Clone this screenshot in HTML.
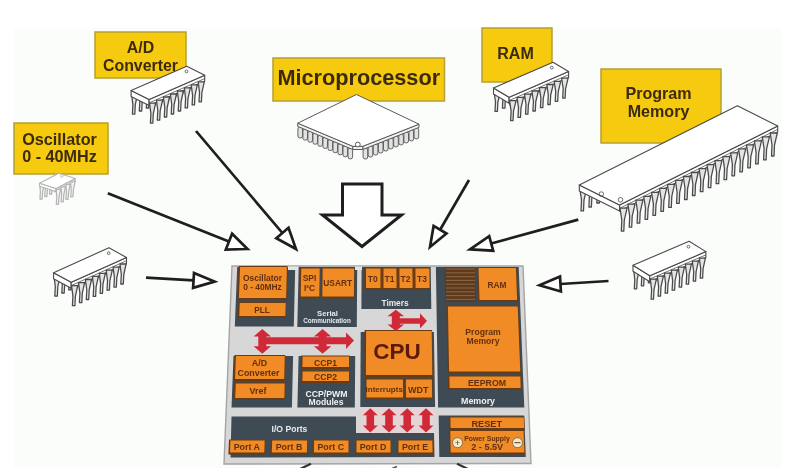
<!DOCTYPE html><html><head><meta charset="utf-8"><style>html,body{margin:0;padding:0;background:#fff;width:796px;height:468px;overflow:hidden}svg{display:block;filter:blur(0.3px);font-family:"Liberation Sans",sans-serif}</style></head><body>
<svg width="796" height="468" viewBox="0 0 796 468">
<rect width="796" height="468" fill="#fff"/>
<rect x="14" y="28" width="768" height="440" fill="#FBFDFB"/>
<rect x="95" y="32" width="91" height="46" fill="#F6CA0E" stroke="#B5A032" stroke-width="1.5"/>
<text x="140.5" y="47.3" font-size="15.9" fill="#3B2A0E" font-weight="bold" text-anchor="middle" dominant-baseline="central" letter-spacing="0" >A/D</text>
<text x="140.5" y="65.6" font-size="15.9" fill="#3B2A0E" font-weight="bold" text-anchor="middle" dominant-baseline="central" letter-spacing="0" >Converter</text>
<rect x="14" y="123" width="94" height="51" fill="#F6CA0E" stroke="#B5A032" stroke-width="1.5"/>
<text x="59.5" y="138.5" font-size="16.2" fill="#3B2A0E" font-weight="bold" text-anchor="middle" dominant-baseline="central" letter-spacing="0" >Oscillator</text>
<text x="59.5" y="156" font-size="16.2" fill="#3B2A0E" font-weight="bold" text-anchor="middle" dominant-baseline="central" letter-spacing="0" >0 - 40MHz</text>
<rect x="273" y="58" width="171.5" height="43" fill="#F6CA0E" stroke="#B5A032" stroke-width="1.5"/>
<text x="358.75" y="77.5" font-size="21.7" fill="#3B2A0E" font-weight="bold" text-anchor="middle" dominant-baseline="central" letter-spacing="0" >Microprocessor</text>
<rect x="482" y="28" width="70" height="54" fill="#F6CA0E" stroke="#B5A032" stroke-width="1.5"/>
<text x="515.5" y="53" font-size="16" fill="#3B2A0E" font-weight="bold" text-anchor="middle" dominant-baseline="central" letter-spacing="0" >RAM</text>
<rect x="601" y="69" width="120" height="74" fill="#F6CA0E" stroke="#B5A032" stroke-width="1.5"/>
<text x="658.5" y="92.8" font-size="16.1" fill="#3B2A0E" font-weight="bold" text-anchor="middle" dominant-baseline="central" letter-spacing="0" >Program</text>
<text x="658.5" y="111.3" font-size="16.1" fill="#3B2A0E" font-weight="bold" text-anchor="middle" dominant-baseline="central" letter-spacing="0" >Memory</text>
<polygon points="39.8,184.0 44.2,184.0 42.6,192.0 42.1,199.0 39.9,199.0 40.4,192.0" fill="#f4f4f4" stroke="#b5b5b5" stroke-width="1.265" stroke-linejoin="round"/>
<polygon points="44.6,181.5 49.0,181.5 47.4,189.5 46.9,196.5 44.7,196.5 45.2,189.5" fill="#f4f4f4" stroke="#b5b5b5" stroke-width="1.265" stroke-linejoin="round"/>
<polygon points="49.4,179.0 53.8,179.0 52.2,187.0 51.7,194.0 49.5,194.0 50.0,187.0" fill="#f4f4f4" stroke="#b5b5b5" stroke-width="1.265" stroke-linejoin="round"/>
<polygon points="54.2,176.5 58.6,176.5 57.0,184.5 56.5,191.5 54.3,191.5 54.8,184.5" fill="#f4f4f4" stroke="#b5b5b5" stroke-width="1.265" stroke-linejoin="round"/>
<polygon points="39.6,183.3 56.0,188.6 56.0,191.6 39.6,186.3" fill="#fff" stroke="#b5b5b5" stroke-width="1.1" stroke-linejoin="round"/>
<polygon points="56.0,188.6 75.2,178.5 75.2,181.5 56.0,191.6" fill="#fff" stroke="#b5b5b5" stroke-width="1.1" stroke-linejoin="round"/>
<line x1="56.0" y1="190.3" x2="75.2" y2="180.2" stroke="#b5b5b5" stroke-width="0.77"/>
<polygon points="39.6,183.3 58.8,173.2 75.2,178.5 56.0,188.6" fill="#fff" stroke="#b5b5b5" stroke-width="1.1" stroke-linejoin="round"/>
<circle cx="61.8" cy="175.8" r="1.4" fill="none" stroke="#b5b5b5" stroke-width="0.8"/>
<polygon points="56.2,189.3 60.6,189.3 59.0,197.3 58.5,204.3 56.3,204.3 56.8,197.3" fill="#f4f4f4" stroke="#b5b5b5" stroke-width="1.265" stroke-linejoin="round"/>
<polygon points="61.0,186.8 65.4,186.8 63.8,194.8 63.3,201.8 61.1,201.8 61.6,194.8" fill="#f4f4f4" stroke="#b5b5b5" stroke-width="1.265" stroke-linejoin="round"/>
<polygon points="65.8,184.3 70.2,184.3 68.6,192.3 68.1,199.3 65.9,199.3 66.4,192.3" fill="#f4f4f4" stroke="#b5b5b5" stroke-width="1.265" stroke-linejoin="round"/>
<polygon points="70.6,181.8 75.0,181.8 73.4,189.8 72.9,196.8 70.7,196.8 71.2,189.8" fill="#f4f4f4" stroke="#b5b5b5" stroke-width="1.265" stroke-linejoin="round"/>
<polygon points="131.5,94.1 137.6,94.1 135.3,104.6 134.8,114.1 132.4,114.1 132.9,104.6" fill="#e4e4e4" stroke="#4a4a4a" stroke-width="1.265" stroke-linejoin="round"/>
<polygon points="138.5,91.0 144.6,91.0 142.2,101.5 141.7,111.0 139.3,111.0 139.8,101.5" fill="#e4e4e4" stroke="#4a4a4a" stroke-width="1.265" stroke-linejoin="round"/>
<polygon points="145.4,88.0 151.5,88.0 149.2,98.5 148.7,108.0 146.3,108.0 146.8,98.5" fill="#e4e4e4" stroke="#4a4a4a" stroke-width="1.265" stroke-linejoin="round"/>
<polygon points="152.4,84.9 158.5,84.9 156.1,95.4 155.6,104.9 153.2,104.9 153.7,95.4" fill="#e4e4e4" stroke="#4a4a4a" stroke-width="1.265" stroke-linejoin="round"/>
<polygon points="159.3,81.9 165.4,81.9 163.1,92.4 162.6,101.9 160.2,101.9 160.7,92.4" fill="#e4e4e4" stroke="#4a4a4a" stroke-width="1.265" stroke-linejoin="round"/>
<polygon points="166.3,78.9 172.4,78.9 170.0,89.4 169.5,98.9 167.1,98.9 167.6,89.4" fill="#e4e4e4" stroke="#4a4a4a" stroke-width="1.265" stroke-linejoin="round"/>
<polygon points="173.2,75.8 179.3,75.8 177.0,86.3 176.5,95.8 174.1,95.8 174.6,86.3" fill="#e4e4e4" stroke="#4a4a4a" stroke-width="1.265" stroke-linejoin="round"/>
<polygon points="180.2,72.8 186.3,72.8 183.9,83.3 183.4,92.8 181.0,92.8 181.5,83.3" fill="#e4e4e4" stroke="#4a4a4a" stroke-width="1.265" stroke-linejoin="round"/>
<polygon points="131.1,90.6 149.1,99.6 149.1,105.6 131.1,96.6" fill="#fff" stroke="#4a4a4a" stroke-width="1.1" stroke-linejoin="round"/>
<polygon points="149.1,99.6 204.7,75.3 204.7,81.3 149.1,105.6" fill="#fff" stroke="#4a4a4a" stroke-width="1.1" stroke-linejoin="round"/>
<line x1="149.1" y1="102.9" x2="204.7" y2="78.6" stroke="#4a4a4a" stroke-width="0.77"/>
<polygon points="131.1,90.6 186.7,66.2 204.7,75.3 149.1,99.6" fill="#fff" stroke="#4a4a4a" stroke-width="1.1" stroke-linejoin="round"/>
<circle cx="186.5" cy="71.4" r="1.4" fill="none" stroke="#4a4a4a" stroke-width="0.8"/>
<polygon points="149.5,103.1 155.6,103.1 153.3,113.6 152.8,123.1 150.4,123.1 150.9,113.6" fill="#e4e4e4" stroke="#4a4a4a" stroke-width="1.265" stroke-linejoin="round"/>
<polygon points="156.5,100.1 162.6,100.1 160.2,110.6 159.7,120.1 157.3,120.1 157.8,110.6" fill="#e4e4e4" stroke="#4a4a4a" stroke-width="1.265" stroke-linejoin="round"/>
<polygon points="163.4,97.0 169.5,97.0 167.2,107.5 166.7,117.0 164.3,117.0 164.8,107.5" fill="#e4e4e4" stroke="#4a4a4a" stroke-width="1.265" stroke-linejoin="round"/>
<polygon points="170.4,94.0 176.5,94.0 174.1,104.5 173.6,114.0 171.2,114.0 171.7,104.5" fill="#e4e4e4" stroke="#4a4a4a" stroke-width="1.265" stroke-linejoin="round"/>
<polygon points="177.3,91.0 183.4,91.0 181.1,101.5 180.6,111.0 178.2,111.0 178.7,101.5" fill="#e4e4e4" stroke="#4a4a4a" stroke-width="1.265" stroke-linejoin="round"/>
<polygon points="184.3,87.9 190.4,87.9 188.0,98.4 187.5,107.9 185.1,107.9 185.6,98.4" fill="#e4e4e4" stroke="#4a4a4a" stroke-width="1.265" stroke-linejoin="round"/>
<polygon points="191.2,84.9 197.3,84.9 195.0,95.4 194.5,104.9 192.1,104.9 192.6,95.4" fill="#e4e4e4" stroke="#4a4a4a" stroke-width="1.265" stroke-linejoin="round"/>
<polygon points="198.2,81.8 204.3,81.8 201.9,92.3 201.4,101.8 199.0,101.8 199.5,92.3" fill="#e4e4e4" stroke="#4a4a4a" stroke-width="1.265" stroke-linejoin="round"/>
<rect x="297.9" y="127.0" width="4.6" height="11" rx="2" fill="#e2e2e2" stroke="#555" stroke-width="0.9"/>
<rect x="302.9" y="129.1" width="4.6" height="11" rx="2" fill="#e2e2e2" stroke="#555" stroke-width="0.9"/>
<rect x="307.9" y="131.2" width="4.6" height="11" rx="2" fill="#e2e2e2" stroke="#555" stroke-width="0.9"/>
<rect x="312.9" y="133.2" width="4.6" height="11" rx="2" fill="#e2e2e2" stroke="#555" stroke-width="0.9"/>
<rect x="317.9" y="135.3" width="4.6" height="11" rx="2" fill="#e2e2e2" stroke="#555" stroke-width="0.9"/>
<rect x="322.9" y="137.4" width="4.6" height="11" rx="2" fill="#e2e2e2" stroke="#555" stroke-width="0.9"/>
<rect x="328.0" y="139.6" width="4.6" height="11" rx="2" fill="#e2e2e2" stroke="#555" stroke-width="0.9"/>
<rect x="333.0" y="141.7" width="4.6" height="11" rx="2" fill="#e2e2e2" stroke="#555" stroke-width="0.9"/>
<rect x="338.0" y="143.8" width="4.6" height="11" rx="2" fill="#e2e2e2" stroke="#555" stroke-width="0.9"/>
<rect x="343.0" y="145.8" width="4.6" height="11" rx="2" fill="#e2e2e2" stroke="#555" stroke-width="0.9"/>
<rect x="348.0" y="147.9" width="4.6" height="11" rx="2" fill="#e2e2e2" stroke="#555" stroke-width="0.9"/>
<rect x="363.1" y="148.0" width="4.6" height="11" rx="2" fill="#e2e2e2" stroke="#555" stroke-width="0.9"/>
<rect x="368.2" y="146.0" width="4.6" height="11" rx="2" fill="#e2e2e2" stroke="#555" stroke-width="0.9"/>
<rect x="373.3" y="144.0" width="4.6" height="11" rx="2" fill="#e2e2e2" stroke="#555" stroke-width="0.9"/>
<rect x="378.4" y="142.0" width="4.6" height="11" rx="2" fill="#e2e2e2" stroke="#555" stroke-width="0.9"/>
<rect x="383.5" y="140.0" width="4.6" height="11" rx="2" fill="#e2e2e2" stroke="#555" stroke-width="0.9"/>
<rect x="388.6" y="137.9" width="4.6" height="11" rx="2" fill="#e2e2e2" stroke="#555" stroke-width="0.9"/>
<rect x="393.7" y="135.9" width="4.6" height="11" rx="2" fill="#e2e2e2" stroke="#555" stroke-width="0.9"/>
<rect x="398.8" y="133.9" width="4.6" height="11" rx="2" fill="#e2e2e2" stroke="#555" stroke-width="0.9"/>
<rect x="403.9" y="131.9" width="4.6" height="11" rx="2" fill="#e2e2e2" stroke="#555" stroke-width="0.9"/>
<rect x="409.0" y="129.9" width="4.6" height="11" rx="2" fill="#e2e2e2" stroke="#555" stroke-width="0.9"/>
<rect x="414.1" y="127.9" width="4.6" height="11" rx="2" fill="#e2e2e2" stroke="#555" stroke-width="0.9"/>
<polygon points="297.7,123.2 352.8,146.3 352.8,149.5 297.7,126.4" fill="#f2f2f2" stroke="#5a5a5a" stroke-width="1.0" stroke-linejoin="round"/>
<polygon points="362.8,146.3 419.0,124.2 419.0,127.4 362.8,149.5" fill="#f2f2f2" stroke="#5a5a5a" stroke-width="1.0" stroke-linejoin="round"/>
<polygon points="352.8,146.3 362.8,146.3 362.8,149.5 352.8,149.5" fill="#f2f2f2" stroke="#5a5a5a" stroke-width="1.0" stroke-linejoin="round"/>
<polygon points="356.5,94.5 419.0,124.2 362.8,146.3 352.8,146.3 297.7,123.2" fill="#fff" stroke="#5a5a5a" stroke-width="1.0" stroke-linejoin="round"/>
<circle cx="357.8" cy="144.5" r="2.4" fill="#fff" stroke="#5a5a5a" stroke-width="1"/>
<polygon points="494.0,91.4 500.5,91.4 497.9,101.9 497.4,111.4 495.0,111.4 495.5,101.9" fill="#e4e4e4" stroke="#4a4a4a" stroke-width="1.265" stroke-linejoin="round"/>
<polygon points="501.4,88.2 507.9,88.2 505.4,98.7 504.9,108.2 502.4,108.2 502.9,98.7" fill="#e4e4e4" stroke="#4a4a4a" stroke-width="1.265" stroke-linejoin="round"/>
<polygon points="508.9,85.0 515.3,85.0 512.8,95.5 512.3,105.0 509.9,105.0 510.4,95.5" fill="#e4e4e4" stroke="#4a4a4a" stroke-width="1.265" stroke-linejoin="round"/>
<polygon points="516.3,81.8 522.8,81.8 520.2,92.3 519.7,101.8 517.3,101.8 517.8,92.3" fill="#e4e4e4" stroke="#4a4a4a" stroke-width="1.265" stroke-linejoin="round"/>
<polygon points="523.7,78.5 530.2,78.5 527.7,89.0 527.2,98.5 524.8,98.5 525.3,89.0" fill="#e4e4e4" stroke="#4a4a4a" stroke-width="1.265" stroke-linejoin="round"/>
<polygon points="531.2,75.3 537.6,75.3 535.1,85.8 534.6,95.3 532.2,95.3 532.7,85.8" fill="#e4e4e4" stroke="#4a4a4a" stroke-width="1.265" stroke-linejoin="round"/>
<polygon points="538.6,72.1 545.1,72.1 542.6,82.6 542.1,92.1 539.6,92.1 540.1,82.6" fill="#e4e4e4" stroke="#4a4a4a" stroke-width="1.265" stroke-linejoin="round"/>
<polygon points="546.0,68.9 552.5,68.9 550.0,79.4 549.5,88.9 547.1,88.9 547.6,79.4" fill="#e4e4e4" stroke="#4a4a4a" stroke-width="1.265" stroke-linejoin="round"/>
<polygon points="493.5,88.0 509.1,97.2 509.1,103.2 493.5,94.0" fill="#fff" stroke="#4a4a4a" stroke-width="1.1" stroke-linejoin="round"/>
<polygon points="509.1,97.2 568.6,71.5 568.6,77.5 509.1,103.2" fill="#fff" stroke="#4a4a4a" stroke-width="1.1" stroke-linejoin="round"/>
<line x1="509.1" y1="100.5" x2="568.6" y2="74.8" stroke="#4a4a4a" stroke-width="0.77"/>
<polygon points="493.5,88.0 553.0,62.3 568.6,71.5 509.1,97.2" fill="#fff" stroke="#4a4a4a" stroke-width="1.1" stroke-linejoin="round"/>
<circle cx="551.7" cy="67.6" r="1.4" fill="none" stroke="#4a4a4a" stroke-width="0.8"/>
<polygon points="509.6,100.6 516.1,100.6 513.5,111.1 513.0,120.6 510.6,120.6 511.1,111.1" fill="#e4e4e4" stroke="#4a4a4a" stroke-width="1.265" stroke-linejoin="round"/>
<polygon points="517.0,97.4 523.5,97.4 521.0,107.9 520.5,117.4 518.0,117.4 518.5,107.9" fill="#e4e4e4" stroke="#4a4a4a" stroke-width="1.265" stroke-linejoin="round"/>
<polygon points="524.5,94.2 530.9,94.2 528.4,104.7 527.9,114.2 525.5,114.2 526.0,104.7" fill="#e4e4e4" stroke="#4a4a4a" stroke-width="1.265" stroke-linejoin="round"/>
<polygon points="531.9,91.0 538.4,91.0 535.8,101.5 535.3,111.0 532.9,111.0 533.4,101.5" fill="#e4e4e4" stroke="#4a4a4a" stroke-width="1.265" stroke-linejoin="round"/>
<polygon points="539.3,87.7 545.8,87.7 543.3,98.2 542.8,107.7 540.4,107.7 540.9,98.2" fill="#e4e4e4" stroke="#4a4a4a" stroke-width="1.265" stroke-linejoin="round"/>
<polygon points="546.8,84.5 553.2,84.5 550.7,95.0 550.2,104.5 547.8,104.5 548.3,95.0" fill="#e4e4e4" stroke="#4a4a4a" stroke-width="1.265" stroke-linejoin="round"/>
<polygon points="554.2,81.3 560.7,81.3 558.2,91.8 557.7,101.3 555.2,101.3 555.7,91.8" fill="#e4e4e4" stroke="#4a4a4a" stroke-width="1.265" stroke-linejoin="round"/>
<polygon points="561.6,78.1 568.1,78.1 565.6,88.6 565.1,98.1 562.7,98.1 563.2,88.6" fill="#e4e4e4" stroke="#4a4a4a" stroke-width="1.265" stroke-linejoin="round"/>
<polygon points="579.7,187.9 586.8,187.9 584.0,199.9 583.5,210.9 581.0,210.9 581.5,199.9" fill="#e4e4e4" stroke="#4a4a4a" stroke-width="1.265" stroke-linejoin="round"/>
<polygon points="587.6,184.0 594.7,184.0 591.9,196.0 591.4,207.0 588.9,207.0 589.4,196.0" fill="#e4e4e4" stroke="#4a4a4a" stroke-width="1.265" stroke-linejoin="round"/>
<polygon points="595.5,180.0 602.6,180.0 599.9,192.0 599.4,203.0 596.8,203.0 597.3,192.0" fill="#e4e4e4" stroke="#4a4a4a" stroke-width="1.265" stroke-linejoin="round"/>
<polygon points="603.4,176.1 610.5,176.1 607.8,188.1 607.3,199.1 604.7,199.1 605.2,188.1" fill="#e4e4e4" stroke="#4a4a4a" stroke-width="1.265" stroke-linejoin="round"/>
<polygon points="611.3,172.1 618.4,172.1 615.7,184.1 615.2,195.1 612.6,195.1 613.1,184.1" fill="#e4e4e4" stroke="#4a4a4a" stroke-width="1.265" stroke-linejoin="round"/>
<polygon points="619.2,168.1 626.3,168.1 623.6,180.1 623.1,191.1 620.5,191.1 621.0,180.1" fill="#e4e4e4" stroke="#4a4a4a" stroke-width="1.265" stroke-linejoin="round"/>
<polygon points="627.1,164.2 634.2,164.2 631.5,176.2 631.0,187.2 628.4,187.2 628.9,176.2" fill="#e4e4e4" stroke="#4a4a4a" stroke-width="1.265" stroke-linejoin="round"/>
<polygon points="635.1,160.2 642.1,160.2 639.4,172.2 638.9,183.2 636.3,183.2 636.8,172.2" fill="#e4e4e4" stroke="#4a4a4a" stroke-width="1.265" stroke-linejoin="round"/>
<polygon points="643.0,156.3 650.0,156.3 647.3,168.3 646.8,179.3 644.2,179.3 644.7,168.3" fill="#e4e4e4" stroke="#4a4a4a" stroke-width="1.265" stroke-linejoin="round"/>
<polygon points="650.9,152.3 657.9,152.3 655.2,164.3 654.7,175.3 652.1,175.3 652.6,164.3" fill="#e4e4e4" stroke="#4a4a4a" stroke-width="1.265" stroke-linejoin="round"/>
<polygon points="658.8,148.4 665.8,148.4 663.1,160.4 662.6,171.4 660.0,171.4 660.5,160.4" fill="#e4e4e4" stroke="#4a4a4a" stroke-width="1.265" stroke-linejoin="round"/>
<polygon points="666.7,144.4 673.7,144.4 671.0,156.4 670.5,167.4 667.9,167.4 668.4,156.4" fill="#e4e4e4" stroke="#4a4a4a" stroke-width="1.265" stroke-linejoin="round"/>
<polygon points="674.6,140.5 681.6,140.5 678.9,152.5 678.4,163.5 675.8,163.5 676.3,152.5" fill="#e4e4e4" stroke="#4a4a4a" stroke-width="1.265" stroke-linejoin="round"/>
<polygon points="682.5,136.5 689.6,136.5 686.8,148.5 686.3,159.5 683.7,159.5 684.2,148.5" fill="#e4e4e4" stroke="#4a4a4a" stroke-width="1.265" stroke-linejoin="round"/>
<polygon points="690.4,132.6 697.5,132.6 694.7,144.6 694.2,155.6 691.6,155.6 692.1,144.6" fill="#e4e4e4" stroke="#4a4a4a" stroke-width="1.265" stroke-linejoin="round"/>
<polygon points="698.3,128.6 705.4,128.6 702.6,140.6 702.1,151.6 699.5,151.6 700.0,140.6" fill="#e4e4e4" stroke="#4a4a4a" stroke-width="1.265" stroke-linejoin="round"/>
<polygon points="706.2,124.6 713.3,124.6 710.5,136.6 710.0,147.6 707.4,147.6 707.9,136.6" fill="#e4e4e4" stroke="#4a4a4a" stroke-width="1.265" stroke-linejoin="round"/>
<polygon points="714.1,120.7 721.2,120.7 718.4,132.7 717.9,143.7 715.3,143.7 715.8,132.7" fill="#e4e4e4" stroke="#4a4a4a" stroke-width="1.265" stroke-linejoin="round"/>
<polygon points="722.0,116.7 729.1,116.7 726.3,128.7 725.8,139.7 723.3,139.7 723.8,128.7" fill="#e4e4e4" stroke="#4a4a4a" stroke-width="1.265" stroke-linejoin="round"/>
<polygon points="729.9,112.8 737.0,112.8 734.2,124.8 733.7,135.8 731.2,135.8 731.7,124.8" fill="#e4e4e4" stroke="#4a4a4a" stroke-width="1.265" stroke-linejoin="round"/>
<polygon points="579.3,184.9 619.6,205.1 619.6,211.1 579.3,190.9" fill="#fff" stroke="#4a4a4a" stroke-width="1.1" stroke-linejoin="round"/>
<polygon points="619.6,205.1 777.7,126.0 777.7,132.0 619.6,211.1" fill="#fff" stroke="#4a4a4a" stroke-width="1.1" stroke-linejoin="round"/>
<line x1="619.6" y1="208.4" x2="777.7" y2="129.3" stroke="#4a4a4a" stroke-width="0.77"/>
<polygon points="579.3,184.9 737.4,105.8 777.7,126.0 619.6,205.1" fill="#fff" stroke="#4a4a4a" stroke-width="1.1" stroke-linejoin="round"/>
<circle cx="601.3" cy="194.1" r="2.3" fill="none" stroke="#4a4a4a" stroke-width="0.8"/>
<circle cx="620.5" cy="199.8" r="2.3" fill="none" stroke="#4a4a4a" stroke-width="0.8"/>
<polygon points="620.0,208.1 627.1,208.1 624.3,220.1 623.8,231.1 621.3,231.1 621.8,220.1" fill="#e4e4e4" stroke="#4a4a4a" stroke-width="1.265" stroke-linejoin="round"/>
<polygon points="627.9,204.2 635.0,204.2 632.2,216.2 631.7,227.2 629.2,227.2 629.7,216.2" fill="#e4e4e4" stroke="#4a4a4a" stroke-width="1.265" stroke-linejoin="round"/>
<polygon points="635.8,200.2 642.9,200.2 640.2,212.2 639.7,223.2 637.1,223.2 637.6,212.2" fill="#e4e4e4" stroke="#4a4a4a" stroke-width="1.265" stroke-linejoin="round"/>
<polygon points="643.7,196.3 650.8,196.3 648.1,208.3 647.6,219.3 645.0,219.3 645.5,208.3" fill="#e4e4e4" stroke="#4a4a4a" stroke-width="1.265" stroke-linejoin="round"/>
<polygon points="651.6,192.3 658.7,192.3 656.0,204.3 655.5,215.3 652.9,215.3 653.4,204.3" fill="#e4e4e4" stroke="#4a4a4a" stroke-width="1.265" stroke-linejoin="round"/>
<polygon points="659.5,188.3 666.6,188.3 663.9,200.3 663.4,211.3 660.8,211.3 661.3,200.3" fill="#e4e4e4" stroke="#4a4a4a" stroke-width="1.265" stroke-linejoin="round"/>
<polygon points="667.4,184.4 674.5,184.4 671.8,196.4 671.3,207.4 668.7,207.4 669.2,196.4" fill="#e4e4e4" stroke="#4a4a4a" stroke-width="1.265" stroke-linejoin="round"/>
<polygon points="675.4,180.4 682.4,180.4 679.7,192.4 679.2,203.4 676.6,203.4 677.1,192.4" fill="#e4e4e4" stroke="#4a4a4a" stroke-width="1.265" stroke-linejoin="round"/>
<polygon points="683.3,176.5 690.3,176.5 687.6,188.5 687.1,199.5 684.5,199.5 685.0,188.5" fill="#e4e4e4" stroke="#4a4a4a" stroke-width="1.265" stroke-linejoin="round"/>
<polygon points="691.2,172.5 698.2,172.5 695.5,184.5 695.0,195.5 692.4,195.5 692.9,184.5" fill="#e4e4e4" stroke="#4a4a4a" stroke-width="1.265" stroke-linejoin="round"/>
<polygon points="699.1,168.6 706.1,168.6 703.4,180.6 702.9,191.6 700.3,191.6 700.8,180.6" fill="#e4e4e4" stroke="#4a4a4a" stroke-width="1.265" stroke-linejoin="round"/>
<polygon points="707.0,164.6 714.0,164.6 711.3,176.6 710.8,187.6 708.2,187.6 708.7,176.6" fill="#e4e4e4" stroke="#4a4a4a" stroke-width="1.265" stroke-linejoin="round"/>
<polygon points="714.9,160.7 721.9,160.7 719.2,172.7 718.7,183.7 716.1,183.7 716.6,172.7" fill="#e4e4e4" stroke="#4a4a4a" stroke-width="1.265" stroke-linejoin="round"/>
<polygon points="722.8,156.7 729.9,156.7 727.1,168.7 726.6,179.7 724.0,179.7 724.5,168.7" fill="#e4e4e4" stroke="#4a4a4a" stroke-width="1.265" stroke-linejoin="round"/>
<polygon points="730.7,152.8 737.8,152.8 735.0,164.8 734.5,175.8 731.9,175.8 732.4,164.8" fill="#e4e4e4" stroke="#4a4a4a" stroke-width="1.265" stroke-linejoin="round"/>
<polygon points="738.6,148.8 745.7,148.8 742.9,160.8 742.4,171.8 739.8,171.8 740.3,160.8" fill="#e4e4e4" stroke="#4a4a4a" stroke-width="1.265" stroke-linejoin="round"/>
<polygon points="746.5,144.8 753.6,144.8 750.8,156.8 750.3,167.8 747.7,167.8 748.2,156.8" fill="#e4e4e4" stroke="#4a4a4a" stroke-width="1.265" stroke-linejoin="round"/>
<polygon points="754.4,140.9 761.5,140.9 758.7,152.9 758.2,163.9 755.6,163.9 756.1,152.9" fill="#e4e4e4" stroke="#4a4a4a" stroke-width="1.265" stroke-linejoin="round"/>
<polygon points="762.3,136.9 769.4,136.9 766.6,148.9 766.1,159.9 763.6,159.9 764.1,148.9" fill="#e4e4e4" stroke="#4a4a4a" stroke-width="1.265" stroke-linejoin="round"/>
<polygon points="770.2,133.0 777.3,133.0 774.5,145.0 774.0,156.0 771.5,156.0 772.0,145.0" fill="#e4e4e4" stroke="#4a4a4a" stroke-width="1.265" stroke-linejoin="round"/>
<polygon points="54.0,276.1 60.1,276.1 57.8,286.6 57.3,296.1 54.8,296.1 55.3,286.6" fill="#e4e4e4" stroke="#4a4a4a" stroke-width="1.265" stroke-linejoin="round"/>
<polygon points="60.9,273.0 67.0,273.0 64.7,283.5 64.2,293.0 61.8,293.0 62.3,283.5" fill="#e4e4e4" stroke="#4a4a4a" stroke-width="1.265" stroke-linejoin="round"/>
<polygon points="67.8,269.9 73.9,269.9 71.6,280.4 71.1,289.9 68.7,289.9 69.2,280.4" fill="#e4e4e4" stroke="#4a4a4a" stroke-width="1.265" stroke-linejoin="round"/>
<polygon points="74.8,266.8 80.8,266.8 78.5,277.3 78.0,286.8 75.6,286.8 76.1,277.3" fill="#e4e4e4" stroke="#4a4a4a" stroke-width="1.265" stroke-linejoin="round"/>
<polygon points="81.7,263.7 87.7,263.7 85.4,274.2 84.9,283.7 82.5,283.7 83.0,274.2" fill="#e4e4e4" stroke="#4a4a4a" stroke-width="1.265" stroke-linejoin="round"/>
<polygon points="88.6,260.6 94.7,260.6 92.3,271.1 91.8,280.6 89.4,280.6 89.9,271.1" fill="#e4e4e4" stroke="#4a4a4a" stroke-width="1.265" stroke-linejoin="round"/>
<polygon points="95.5,257.5 101.6,257.5 99.2,268.0 98.7,277.5 96.3,277.5 96.8,268.0" fill="#e4e4e4" stroke="#4a4a4a" stroke-width="1.265" stroke-linejoin="round"/>
<polygon points="102.4,254.4 108.5,254.4 106.2,264.9 105.7,274.4 103.2,274.4 103.7,264.9" fill="#e4e4e4" stroke="#4a4a4a" stroke-width="1.265" stroke-linejoin="round"/>
<polygon points="53.6,272.7 71.2,282.3 71.2,288.3 53.6,278.7" fill="#fff" stroke="#4a4a4a" stroke-width="1.1" stroke-linejoin="round"/>
<polygon points="71.2,282.3 126.5,257.4 126.5,263.4 71.2,288.3" fill="#fff" stroke="#4a4a4a" stroke-width="1.1" stroke-linejoin="round"/>
<line x1="71.2" y1="285.6" x2="126.5" y2="260.7" stroke="#4a4a4a" stroke-width="0.77"/>
<polygon points="53.6,272.7 108.9,247.8 126.5,257.4 71.2,282.3" fill="#fff" stroke="#4a4a4a" stroke-width="1.1" stroke-linejoin="round"/>
<circle cx="108.7" cy="253.2" r="1.4" fill="none" stroke="#4a4a4a" stroke-width="0.8"/>
<polygon points="71.6,285.7 77.7,285.7 75.4,296.2 74.9,305.7 72.4,305.7 72.9,296.2" fill="#e4e4e4" stroke="#4a4a4a" stroke-width="1.265" stroke-linejoin="round"/>
<polygon points="78.5,282.6 84.6,282.6 82.3,293.1 81.8,302.6 79.4,302.6 79.9,293.1" fill="#e4e4e4" stroke="#4a4a4a" stroke-width="1.265" stroke-linejoin="round"/>
<polygon points="85.4,279.5 91.5,279.5 89.2,290.0 88.7,299.5 86.3,299.5 86.8,290.0" fill="#e4e4e4" stroke="#4a4a4a" stroke-width="1.265" stroke-linejoin="round"/>
<polygon points="92.4,276.4 98.4,276.4 96.1,286.9 95.6,296.4 93.2,296.4 93.7,286.9" fill="#e4e4e4" stroke="#4a4a4a" stroke-width="1.265" stroke-linejoin="round"/>
<polygon points="99.3,273.3 105.3,273.3 103.0,283.8 102.5,293.3 100.1,293.3 100.6,283.8" fill="#e4e4e4" stroke="#4a4a4a" stroke-width="1.265" stroke-linejoin="round"/>
<polygon points="106.2,270.2 112.3,270.2 109.9,280.7 109.4,290.2 107.0,290.2 107.5,280.7" fill="#e4e4e4" stroke="#4a4a4a" stroke-width="1.265" stroke-linejoin="round"/>
<polygon points="113.1,267.1 119.2,267.1 116.8,277.6 116.3,287.1 113.9,287.1 114.4,277.6" fill="#e4e4e4" stroke="#4a4a4a" stroke-width="1.265" stroke-linejoin="round"/>
<polygon points="120.0,264.0 126.1,264.0 123.8,274.5 123.3,284.0 120.8,284.0 121.3,274.5" fill="#e4e4e4" stroke="#4a4a4a" stroke-width="1.265" stroke-linejoin="round"/>
<polygon points="633.5,268.8 639.6,268.8 637.2,279.3 636.7,288.8 634.3,288.8 634.8,279.3" fill="#e4e4e4" stroke="#4a4a4a" stroke-width="1.265" stroke-linejoin="round"/>
<polygon points="640.5,265.8 646.6,265.8 644.2,276.3 643.7,285.8 641.3,285.8 641.8,276.3" fill="#e4e4e4" stroke="#4a4a4a" stroke-width="1.265" stroke-linejoin="round"/>
<polygon points="647.5,262.8 653.6,262.8 651.2,273.3 650.7,282.8 648.3,282.8 648.8,273.3" fill="#e4e4e4" stroke="#4a4a4a" stroke-width="1.265" stroke-linejoin="round"/>
<polygon points="654.5,259.8 660.6,259.8 658.3,270.3 657.8,279.8 655.3,279.8 655.8,270.3" fill="#e4e4e4" stroke="#4a4a4a" stroke-width="1.265" stroke-linejoin="round"/>
<polygon points="661.5,256.7 667.6,256.7 665.3,267.2 664.8,276.7 662.3,276.7 662.8,267.2" fill="#e4e4e4" stroke="#4a4a4a" stroke-width="1.265" stroke-linejoin="round"/>
<polygon points="668.5,253.7 674.6,253.7 672.3,264.2 671.8,273.7 669.4,273.7 669.9,264.2" fill="#e4e4e4" stroke="#4a4a4a" stroke-width="1.265" stroke-linejoin="round"/>
<polygon points="675.5,250.7 681.6,250.7 679.3,261.2 678.8,270.7 676.4,270.7 676.9,261.2" fill="#e4e4e4" stroke="#4a4a4a" stroke-width="1.265" stroke-linejoin="round"/>
<polygon points="682.5,247.7 688.6,247.7 686.3,258.2 685.8,267.7 683.4,267.7 683.9,258.2" fill="#e4e4e4" stroke="#4a4a4a" stroke-width="1.265" stroke-linejoin="round"/>
<polygon points="633.0,265.3 649.8,275.7 649.8,281.7 633.0,271.3" fill="#fff" stroke="#4a4a4a" stroke-width="1.1" stroke-linejoin="round"/>
<polygon points="649.8,275.7 705.9,251.6 705.9,257.6 649.8,281.7" fill="#fff" stroke="#4a4a4a" stroke-width="1.1" stroke-linejoin="round"/>
<line x1="649.8" y1="279.0" x2="705.9" y2="254.9" stroke="#4a4a4a" stroke-width="0.77"/>
<polygon points="633.0,265.3 689.1,241.2 705.9,251.6 649.8,275.7" fill="#fff" stroke="#4a4a4a" stroke-width="1.1" stroke-linejoin="round"/>
<circle cx="688.5" cy="246.7" r="1.4" fill="none" stroke="#4a4a4a" stroke-width="0.8"/>
<polygon points="650.3,279.2 656.4,279.2 654.0,289.7 653.5,299.2 651.1,299.2 651.6,289.7" fill="#e4e4e4" stroke="#4a4a4a" stroke-width="1.265" stroke-linejoin="round"/>
<polygon points="657.3,276.2 663.4,276.2 661.0,286.7 660.5,296.2 658.1,296.2 658.6,286.7" fill="#e4e4e4" stroke="#4a4a4a" stroke-width="1.265" stroke-linejoin="round"/>
<polygon points="664.3,273.2 670.4,273.2 668.0,283.7 667.5,293.2 665.1,293.2 665.6,283.7" fill="#e4e4e4" stroke="#4a4a4a" stroke-width="1.265" stroke-linejoin="round"/>
<polygon points="671.3,270.2 677.4,270.2 675.1,280.7 674.6,290.2 672.1,290.2 672.6,280.7" fill="#e4e4e4" stroke="#4a4a4a" stroke-width="1.265" stroke-linejoin="round"/>
<polygon points="678.3,267.1 684.4,267.1 682.1,277.6 681.6,287.1 679.1,287.1 679.6,277.6" fill="#e4e4e4" stroke="#4a4a4a" stroke-width="1.265" stroke-linejoin="round"/>
<polygon points="685.3,264.1 691.4,264.1 689.1,274.6 688.6,284.1 686.2,284.1 686.7,274.6" fill="#e4e4e4" stroke="#4a4a4a" stroke-width="1.265" stroke-linejoin="round"/>
<polygon points="692.3,261.1 698.4,261.1 696.1,271.6 695.6,281.1 693.2,281.1 693.7,271.6" fill="#e4e4e4" stroke="#4a4a4a" stroke-width="1.265" stroke-linejoin="round"/>
<polygon points="699.3,258.1 705.4,258.1 703.1,268.6 702.6,278.1 700.2,278.1 700.7,268.6" fill="#e4e4e4" stroke="#4a4a4a" stroke-width="1.265" stroke-linejoin="round"/>
<line x1="107.8" y1="193.3" x2="228.9" y2="241.6" stroke="#1E1E1E" stroke-width="2.7"/>
<polygon points="247.5,249.0 225.8,249.5 232.1,233.7" fill="#fff" stroke="#1E1E1E" stroke-width="2.7" stroke-linejoin="miter"/>
<line x1="146" y1="277.7" x2="193.5" y2="280.4" stroke="#1E1E1E" stroke-width="2.7"/>
<polygon points="214.5,281.6 193.1,287.9 194.0,272.9" fill="#fff" stroke="#1E1E1E" stroke-width="2.7" stroke-linejoin="miter"/>
<line x1="196" y1="131" x2="282.4" y2="233.0" stroke="#1E1E1E" stroke-width="2.7"/>
<polygon points="296.0,249.0 276.3,238.2 288.5,227.8" fill="#fff" stroke="#1E1E1E" stroke-width="2.7" stroke-linejoin="miter"/>
<line x1="469" y1="180" x2="440.1" y2="229.7" stroke="#1E1E1E" stroke-width="2.7"/>
<polygon points="430.0,247.0 433.6,225.9 446.5,233.5" fill="#fff" stroke="#1E1E1E" stroke-width="2.7" stroke-linejoin="miter"/>
<line x1="578.3" y1="219.6" x2="491.2" y2="243.5" stroke="#1E1E1E" stroke-width="2.7"/>
<polygon points="470.0,249.3 489.2,236.2 493.2,250.7" fill="#fff" stroke="#1E1E1E" stroke-width="2.7" stroke-linejoin="miter"/>
<line x1="608.5" y1="281" x2="560.5" y2="284.0" stroke="#1E1E1E" stroke-width="2.7"/>
<polygon points="539.5,285.3 560.0,276.5 560.9,291.5" fill="#fff" stroke="#1E1E1E" stroke-width="2.7" stroke-linejoin="miter"/>
<polygon points="342.5,184 382,184 382,215 401.5,215 362,246.5 322.5,215 342.5,215" fill="#fff" stroke="#1E1E1E" stroke-width="3" stroke-linejoin="miter"/>
<polygon points="232,266 523,266 531,463.5 224,464" fill="#D7D7D7" stroke="#A4A4A4" stroke-width="1.4"/>
<polygon points="237.2,267.0 295.2,267.0 293.8,326.5 234.8,326.5" fill="#3E4A54"/>
<polygon points="288.0,266.5 298.0,266.5 298.0,270.0 288.0,270.0" fill="#E4E4E4"/>
<polygon points="238.7,266.0 287.4,266.0 286.6,300.0 237.3,300.0" fill="#6A3A12"/>
<polygon points="240.1,267.0 286.9,267.0 286.1,298.0 238.9,298.0" fill="#F18B26"/>
<polygon points="238.3,302.0 286.2,302.0 285.8,318.0 237.7,318.0" fill="#6A3A12"/>
<polygon points="239.7,303.0 285.7,303.0 285.3,316.0 239.3,316.0" fill="#F18B26"/>
<text x="262.5" y="277.5" font-size="8.5" fill="#62300E" font-weight="bold" text-anchor="middle" dominant-baseline="central" letter-spacing="0" >Oscillator</text>
<text x="262.5" y="287" font-size="8.4" fill="#62300E" font-weight="bold" text-anchor="middle" dominant-baseline="central" letter-spacing="0" >0 - 40MHz</text>
<text x="262" y="310" font-size="8.2" fill="#62300E" font-weight="bold" text-anchor="middle" dominant-baseline="central" letter-spacing="0" >PLL</text>
<polygon points="298.7,267.0 357.2,267.0 356.8,327.0 297.3,327.0" fill="#3E4A54"/>
<polygon points="299.8,267.5 320.2,267.5 319.8,298.5 299.2,298.5" fill="#6A3A12"/>
<polygon points="301.3,268.5 319.7,268.5 319.3,296.5 300.7,296.5" fill="#F18B26"/>
<polygon points="321.2,267.5 354.6,267.5 354.4,298.5 320.8,298.5" fill="#6A3A12"/>
<polygon points="322.7,268.5 354.1,268.5 353.9,296.5 322.3,296.5" fill="#F18B26"/>
<text x="309.5" y="278" font-size="8.4" fill="#62300E" font-weight="bold" text-anchor="middle" dominant-baseline="central" letter-spacing="0" >SPI</text>
<text x="309.5" y="288" font-size="8.4" fill="#62300E" font-weight="bold" text-anchor="middle" dominant-baseline="central" letter-spacing="0" >I²C</text>
<text x="337.7" y="282.5" font-size="8.4" fill="#62300E" font-weight="bold" text-anchor="middle" dominant-baseline="central" letter-spacing="0" >USART</text>
<text x="327.5" y="313.7" font-size="7.7" fill="#E8ECEF" font-weight="bold" text-anchor="middle" dominant-baseline="central" letter-spacing="0" >Serial</text>
<text x="327" y="320.5" font-size="6.3" fill="#E8ECEF" font-weight="bold" text-anchor="middle" dominant-baseline="central" letter-spacing="0" >Communication</text>
<polygon points="361.6,267.0 430.7,267.0 431.3,309.0 361.4,309.0" fill="#3E4A54"/>
<polygon points="355.0,266.5 362.0,266.5 362.0,270.0 355.0,270.0" fill="#E4E4E4"/>
<polygon points="364.5,267.5 381.0,267.5 381.0,290.0 364.5,290.0" fill="#6A3A12"/>
<polygon points="366.0,268.5 380.5,268.5 380.5,288.0 366.0,288.0" fill="#F18B26"/>
<text x="372.75" y="279" font-size="8.5" fill="#62300E" font-weight="bold" text-anchor="middle" dominant-baseline="central" letter-spacing="0" >T0</text>
<polygon points="382.0,267.5 396.9,267.5 397.1,290.0 382.0,290.0" fill="#6A3A12"/>
<polygon points="383.5,268.5 396.4,268.5 396.6,288.0 383.5,288.0" fill="#F18B26"/>
<text x="389.5" y="279" font-size="8.5" fill="#62300E" font-weight="bold" text-anchor="middle" dominant-baseline="central" letter-spacing="0" >T1</text>
<polygon points="397.9,267.5 412.9,267.5 413.1,290.0 398.1,290.0" fill="#6A3A12"/>
<polygon points="399.4,268.5 412.4,268.5 412.6,288.0 399.6,288.0" fill="#F18B26"/>
<text x="405.5" y="279" font-size="8.5" fill="#62300E" font-weight="bold" text-anchor="middle" dominant-baseline="central" letter-spacing="0" >T2</text>
<polygon points="413.9,267.5 429.8,267.5 430.2,290.0 414.1,290.0" fill="#6A3A12"/>
<polygon points="415.4,268.5 429.4,268.5 429.6,288.0 415.6,288.0" fill="#F18B26"/>
<text x="422.0" y="279" font-size="8.5" fill="#62300E" font-weight="bold" text-anchor="middle" dominant-baseline="central" letter-spacing="0" >T3</text>
<text x="395" y="303" font-size="8.3" fill="#E8ECEF" font-weight="bold" text-anchor="middle" dominant-baseline="central" letter-spacing="0" >Timers</text>
<polygon points="435.9,267.0 518.7,267.0 524.3,407.5 438.1,407.5" fill="#3E4A54"/>
<polygon points="444.7,267.0 475.0,267.0 476.0,302.0 445.3,302.0" fill="#5B3A1E"/>
<line x1="446" y1="269.0" x2="475" y2="269.0" stroke="#8A6038" stroke-width="1.2"/>
<line x1="446" y1="272.8" x2="475" y2="272.8" stroke="#8A6038" stroke-width="1.2"/>
<line x1="446" y1="276.6" x2="475" y2="276.6" stroke="#8A6038" stroke-width="1.2"/>
<line x1="446" y1="280.4" x2="475" y2="280.4" stroke="#8A6038" stroke-width="1.2"/>
<line x1="446" y1="284.2" x2="475" y2="284.2" stroke="#8A6038" stroke-width="1.2"/>
<line x1="446" y1="288.0" x2="475" y2="288.0" stroke="#8A6038" stroke-width="1.2"/>
<line x1="446" y1="291.8" x2="475" y2="291.8" stroke="#8A6038" stroke-width="1.2"/>
<line x1="446" y1="295.6" x2="475" y2="295.6" stroke="#8A6038" stroke-width="1.2"/>
<line x1="446" y1="299.4" x2="475" y2="299.4" stroke="#8A6038" stroke-width="1.2"/>
<polygon points="477.0,267.0 516.3,267.0 517.7,302.0 478.0,302.0" fill="#6A3A12"/>
<polygon points="478.5,268.0 515.9,268.0 517.1,300.0 479.5,300.0" fill="#F18B26"/>
<text x="497" y="285" font-size="8.4" fill="#62300E" font-weight="bold" text-anchor="middle" dominant-baseline="central" letter-spacing="0" >RAM</text>
<polygon points="446.4,305.5 518.2,305.5 520.8,373.5 447.6,373.5" fill="#6A3A12"/>
<polygon points="447.9,306.5 517.7,306.5 520.3,371.5 449.1,371.5" fill="#F18B26"/>
<text x="483" y="331.5" font-size="8.6" fill="#62300E" font-weight="bold" text-anchor="middle" dominant-baseline="central" letter-spacing="0" >Program</text>
<text x="483" y="341" font-size="8.6" fill="#62300E" font-weight="bold" text-anchor="middle" dominant-baseline="central" letter-spacing="0" >Memory</text>
<polygon points="447.9,375.5 520.7,375.5 521.3,390.0 448.1,390.0" fill="#6A3A12"/>
<polygon points="449.4,376.5 520.3,376.5 520.7,388.0 449.6,388.0" fill="#F18B26"/>
<text x="487" y="382.5" font-size="8.8" fill="#62300E" font-weight="bold" text-anchor="middle" dominant-baseline="central" letter-spacing="0" >EEPROM</text>
<text x="478" y="401" font-size="8.9" fill="#F0F2F4" font-weight="bold" text-anchor="middle" dominant-baseline="central" letter-spacing="0" >Memory</text>
<polygon points="233.5,356.0 293.1,356.0 291.9,407.5 231.5,407.5" fill="#3E4A54"/>
<polygon points="234.5,355.0 285.3,355.0 284.7,381.0 233.5,381.0" fill="#6A3A12"/>
<polygon points="235.9,356.0 284.8,356.0 284.2,379.0 235.1,379.0" fill="#F18B26"/>
<text x="259.5" y="363" font-size="8.9" fill="#62300E" font-weight="bold" text-anchor="middle" dominant-baseline="central" letter-spacing="0" >A/D</text>
<text x="258.5" y="372.5" font-size="8.9" fill="#62300E" font-weight="bold" text-anchor="middle" dominant-baseline="central" letter-spacing="0" >Converter</text>
<polygon points="234.3,382.5 285.2,382.5 284.8,400.0 233.7,400.0" fill="#6A3A12"/>
<polygon points="235.8,383.5 284.7,383.5 284.3,398.0 235.2,398.0" fill="#F18B26"/>
<text x="258" y="390.5" font-size="8.9" fill="#62300E" font-weight="bold" text-anchor="middle" dominant-baseline="central" letter-spacing="0" >Vref</text>
<polygon points="298.6,356.0 355.2,356.0 354.8,407.5 297.4,407.5" fill="#3E4A54"/>
<polygon points="301.1,355.5 349.6,355.5 349.4,369.0 300.9,369.0" fill="#6A3A12"/>
<polygon points="302.6,356.5 349.0,356.5 349.0,367.0 302.4,367.0" fill="#F18B26"/>
<polygon points="301.1,370.5 349.5,370.5 349.5,383.0 300.9,383.0" fill="#6A3A12"/>
<polygon points="302.6,371.5 349.0,371.5 349.0,381.0 302.4,381.0" fill="#F18B26"/>
<text x="325.5" y="362.5" font-size="8.6" fill="#62300E" font-weight="bold" text-anchor="middle" dominant-baseline="central" letter-spacing="0" >CCP1</text>
<text x="325.5" y="377" font-size="8.6" fill="#62300E" font-weight="bold" text-anchor="middle" dominant-baseline="central" letter-spacing="0" >CCP2</text>
<text x="326.5" y="393.7" font-size="8.7" fill="#F0F2F4" font-weight="bold" text-anchor="middle" dominant-baseline="central" letter-spacing="0" >CCP/PWM</text>
<text x="326" y="402.3" font-size="8.6" fill="#F0F2F4" font-weight="bold" text-anchor="middle" dominant-baseline="central" letter-spacing="0" >Modules</text>
<polygon points="360.7,332.0 433.9,332.0 435.1,407.0 360.3,407.0" fill="#3E4A54"/>
<polygon points="364.6,330.0 432.1,330.0 432.9,377.0 364.4,377.0" fill="#6A3A12"/>
<polygon points="366.1,331.0 431.7,331.0 432.3,375.0 365.9,375.0" fill="#F18B26"/>
<text x="397" y="351.5" font-size="22.5" fill="#5A1A0C" font-weight="bold" text-anchor="middle" dominant-baseline="central" letter-spacing="0" >CPU</text>
<polygon points="365.0,378.5 403.4,378.5 403.6,399.5 365.0,399.5" fill="#6A3A12"/>
<polygon points="366.5,379.5 402.9,379.5 403.1,397.5 366.5,397.5" fill="#F18B26"/>
<polygon points="404.4,378.5 432.3,378.5 432.7,399.5 404.6,399.5" fill="#6A3A12"/>
<polygon points="405.9,379.5 431.9,379.5 432.1,397.5 406.1,397.5" fill="#F18B26"/>
<text x="384.2" y="389" font-size="8.0" fill="#62300E" font-weight="bold" text-anchor="middle" dominant-baseline="central" letter-spacing="0" >Interrupts</text>
<text x="418.3" y="389.5" font-size="9" fill="#62300E" font-weight="bold" text-anchor="middle" dominant-baseline="central" letter-spacing="0" >WDT</text>
<polygon points="231.5,416.5 356,416.5 356,433 434,433 434.5,457 230.5,457.5" fill="#3E4A54"/>
<text x="289.5" y="428.6" font-size="8.6" fill="#E8ECEF" font-weight="bold" text-anchor="middle" dominant-baseline="central" letter-spacing="0" >I/O Ports</text>
<polygon points="229.0,439.5 265.2,439.5 264.8,454.5 228.4,454.5" fill="#6A3A12"/>
<polygon points="230.4,440.5 264.7,440.5 264.3,452.5 230.0,452.5" fill="#F18B26"/>
<text x="246.85" y="447" font-size="8.9" fill="#62300E" font-weight="bold" text-anchor="middle" dominant-baseline="central" letter-spacing="0" >Port A</text>
<polygon points="270.7,439.5 307.6,439.5 307.4,454.5 270.3,454.5" fill="#6A3A12"/>
<polygon points="272.2,440.5 307.1,440.5 306.9,452.5 271.8,452.5" fill="#F18B26"/>
<text x="289.0" y="447" font-size="8.9" fill="#62300E" font-weight="bold" text-anchor="middle" dominant-baseline="central" letter-spacing="0" >Port B</text>
<polygon points="312.6,439.5 349.1,439.5 348.9,454.5 312.4,454.5" fill="#6A3A12"/>
<polygon points="314.1,440.5 348.5,440.5 348.5,452.5 313.9,452.5" fill="#F18B26"/>
<text x="330.75" y="447" font-size="8.9" fill="#62300E" font-weight="bold" text-anchor="middle" dominant-baseline="central" letter-spacing="0" >Port C</text>
<polygon points="355.0,439.5 391.0,439.5 391.0,454.5 355.0,454.5" fill="#6A3A12"/>
<polygon points="356.5,440.5 390.5,440.5 390.5,452.5 356.5,452.5" fill="#F18B26"/>
<text x="373.0" y="447" font-size="8.9" fill="#62300E" font-weight="bold" text-anchor="middle" dominant-baseline="central" letter-spacing="0" >Port D</text>
<polygon points="397.0,439.5 432.9,439.5 433.1,454.5 397.0,454.5" fill="#6A3A12"/>
<polygon points="398.5,440.5 432.4,440.5 432.6,452.5 398.5,452.5" fill="#F18B26"/>
<text x="415.0" y="447" font-size="8.9" fill="#62300E" font-weight="bold" text-anchor="middle" dominant-baseline="central" letter-spacing="0" >Port E</text>
<polygon points="438.7,415.5 524.2,415.5 525.8,457.0 439.3,457.0" fill="#3E4A54"/>
<polygon points="448.9,416.5 524.2,416.5 524.8,430.0 449.1,430.0" fill="#6A3A12"/>
<polygon points="450.4,417.5 523.8,417.5 524.2,428.0 450.6,428.0" fill="#F18B26"/>
<text x="486.8" y="423.5" font-size="9.2" fill="#62300E" font-weight="bold" text-anchor="middle" dominant-baseline="central" letter-spacing="0" >RESET</text>
<polygon points="448.8,430.0 524.0,430.0 525.0,454.5 449.2,454.5" fill="#6A3A12"/>
<polygon points="450.3,431.0 523.6,431.0 524.4,452.5 450.7,452.5" fill="#F18B26"/>
<text x="487" y="438.3" font-size="6.9" fill="#62300E" font-weight="bold" text-anchor="middle" dominant-baseline="central" letter-spacing="0" >Power Supply</text>
<text x="487.2" y="447.4" font-size="9.1" fill="#62300E" font-weight="bold" text-anchor="middle" dominant-baseline="central" letter-spacing="0" >2 - 5.5V</text>
<circle cx="457.5" cy="442.7" r="5" fill="#F4E9C8" stroke="#7a5a30" stroke-width="0.8"/>
<text x="457.5" y="443" font-size="9" fill="#5a3a10" text-anchor="middle" dominant-baseline="central">+</text>
<circle cx="517.5" cy="442.7" r="5" fill="#F4E9C8" stroke="#7a5a30" stroke-width="0.8"/>
<line x1="514.5" y1="442.7" x2="520.5" y2="442.7" stroke="#5a3a10" stroke-width="1"/>
<rect x="361" y="408" width="73" height="25" fill="#E6D3D6"/>
<polygon points="262,337.2 346,337.2 346,332.5 354,340.6 346,349 346,344.2 262,344.2" fill="#D02A38"/>
<polygon points="262.3,329.0 271.0,336.5 266.3,336.5 266.3,346.2 271.0,346.2 262.3,353.7 253.6,346.2 258.3,346.2 258.3,336.5 253.6,336.5" fill="#D02A38"/>
<polygon points="322.6,329.0 331.3,336.5 326.6,336.5 326.6,346.2 331.3,346.2 322.6,353.7 313.9,346.2 318.6,346.2 318.6,336.5 313.9,336.5" fill="#D02A38"/>
<polygon points="395.8,309.7 404.1,316.2 399.8,316.2 399.8,324.5 404.1,324.5 395.8,331.0 387.5,324.5 391.8,324.5 391.8,316.2 387.5,316.2" fill="#D02A38"/>
<polygon points="396,318.3 420,318.3 420,313.2 427,320.9 420,328.6 420,323.7 396,323.7" fill="#D02A38"/>
<polygon points="370.3,408.3 377.8,415.3 374.1,415.3 374.1,425.5 377.8,425.5 370.3,432.5 362.8,425.5 366.5,425.5 366.5,415.3 362.8,415.3" fill="#D02A38"/>
<polygon points="389.0,408.3 396.5,415.3 392.8,415.3 392.8,425.5 396.5,425.5 389.0,432.5 381.5,425.5 385.2,425.5 385.2,415.3 381.5,415.3" fill="#D02A38"/>
<polygon points="407.2,408.3 414.7,415.3 411.0,415.3 411.0,425.5 414.7,425.5 407.2,432.5 399.7,425.5 403.4,425.5 403.4,415.3 399.7,415.3" fill="#D02A38"/>
<polygon points="426.0,408.3 433.5,415.3 429.8,415.3 429.8,425.5 433.5,425.5 426.0,432.5 418.5,425.5 422.2,425.5 422.2,415.3 418.5,415.3" fill="#D02A38"/>
<line x1="300" y1="469" x2="311" y2="463.8" stroke="#333" stroke-width="2.2"/>
<line x1="392" y1="468.5" x2="397" y2="466.5" stroke="#555" stroke-width="1.6"/>
<line x1="457" y1="463.8" x2="468" y2="469" stroke="#333" stroke-width="2.2"/>
</svg></body></html>
